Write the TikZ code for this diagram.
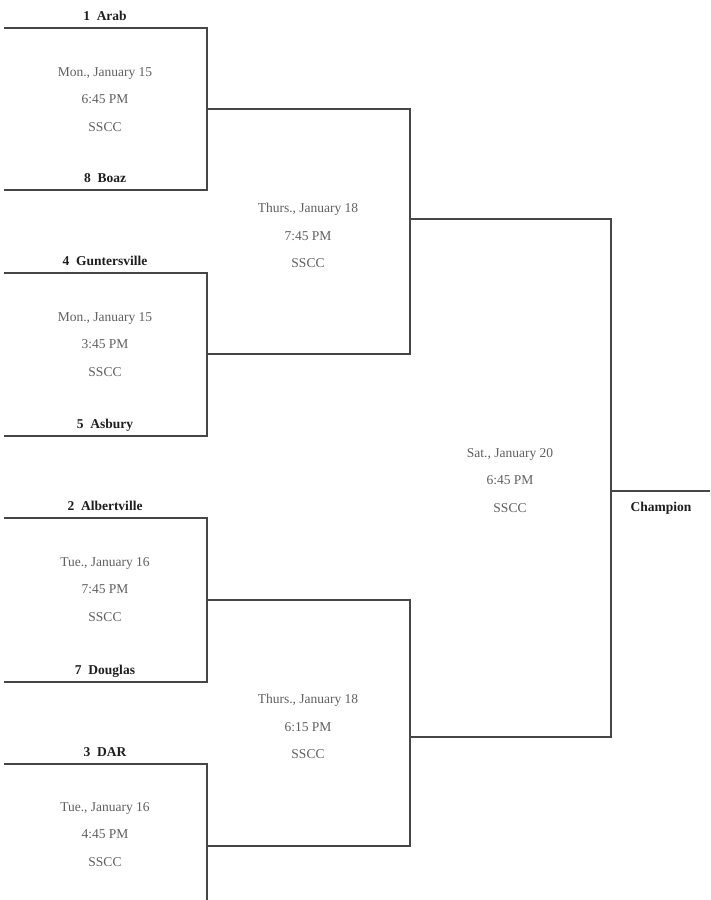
\documentclass[tikz,border=0pt]{standalone}
\usepackage{fontspec}
\setmainfont{Liberation Serif}
\usetikzlibrary{positioning}
\definecolor{linec}{RGB}{70,70,70}
\definecolor{infoc}{RGB}{95,95,95}
\definecolor{teamc}{RGB}{30,30,30}

\begin{document}
\begin{tikzpicture}[x=1pt, y=-1pt,
  team/.style={font=\fontsize{13.5}{16}\selectfont\bfseries, text=teamc, anchor=base, inner sep=0pt},
  info/.style={font=\fontsize{13.5}{27.5}\selectfont, text=infoc, align=center, inner sep=0pt},
  bracket/.style={draw=linec, line width=1.7pt},
]
\useasboundingbox (0,0) rectangle (710,900);

% Round 1: game 1
\coordinate (g1a) at (4,28);   \coordinate (g1b) at (207,28);
\coordinate (g1c) at (4,190);  \coordinate (g1d) at (207,190);
\coordinate (g1m) at (207,109);
\node[team] (arab) at (105,20.5) {1\ \ Arab};
\node[team] (boaz) at (105,182.5) {8\ \ Boaz};
\node[info] (g1) at (105,99.5) {Mon., January 15\\6:45 PM\\SSCC};
\draw[bracket] (g1a) -- (g1b) -- (g1d) -- (g1c);

% Round 1: game 2
\coordinate (g2a) at (4,273);  \coordinate (g2b) at (207,273);
\coordinate (g2c) at (4,436);  \coordinate (g2d) at (207,436);
\coordinate (g2m) at (207,354);
\node[team] (gunt) at (105,265.5) {4\ \ Guntersville};
\node[team] (asbury) at (105,428.5) {5\ \ Asbury};
\node[info] (g2) at (105,344.5) {Mon., January 15\\3:45 PM\\SSCC};
\draw[bracket] (g2a) -- (g2b) -- (g2d) -- (g2c);

% Round 1: game 3
\coordinate (g3a) at (4,518);  \coordinate (g3b) at (207,518);
\coordinate (g3c) at (4,682);  \coordinate (g3d) at (207,682);
\coordinate (g3m) at (207,600);
\node[team] (albert) at (105,510.5) {2\ \ Albertville};
\node[team] (douglas) at (105,674.5) {7\ \ Douglas};
\node[info] (g3) at (105,589.5) {Tue., January 16\\7:45 PM\\SSCC};
\draw[bracket] (g3a) -- (g3b) -- (g3d) -- (g3c);

% Round 1: game 4 (runs off the page)
\coordinate (g4a) at (4,764);  \coordinate (g4b) at (207,764);
\coordinate (g4d) at (207,900);
\coordinate (g4m) at (207,846);
\node[team] (dar) at (105,756.5) {3\ \ DAR};
\node[info] (g4) at (105,834.5) {Tue., January 16\\4:45 PM\\SSCC};
\draw[bracket] (g4a) -- (g4b) -- (g4d);

% Semifinals
\coordinate (s1a) at (410,109); \coordinate (s1b) at (410,354);
\coordinate (s1m) at (410,219);
\node[info] (s1) at (308,235.5) {Thurs., January 18\\7:45 PM\\SSCC};
\draw[bracket] (g1m) -- (s1a) -- (s1b) -- (g2m);

\coordinate (s2a) at (410,600); \coordinate (s2b) at (410,846);
\coordinate (s2m) at (410,737);
\node[info] (s2) at (308,726.5) {Thurs., January 18\\6:15 PM\\SSCC};
\draw[bracket] (g3m) -- (s2a) -- (s2b) -- (g4m);

% Final
\coordinate (fa) at (611,219); \coordinate (fb) at (611,737);
\coordinate (fm) at (611,491); \coordinate (champ) at (710,491);
\node[info] (fin) at (510,480.5) {Sat., January 20\\6:45 PM\\SSCC};
\draw[bracket] (s1m) -- (fa) -- (fb) -- (s2m);
\draw[bracket] (fm) -- (champ);
\node[team] (winner) at (661,511) {Champion};

\end{tikzpicture}
\end{document}
